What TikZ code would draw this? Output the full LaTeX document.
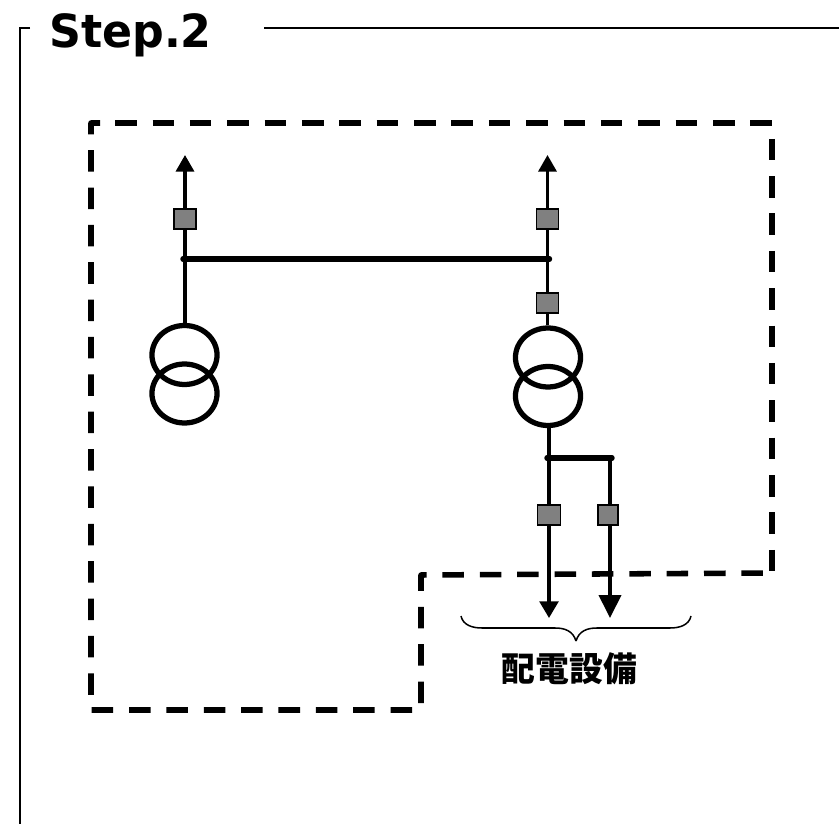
\documentclass[tikz,border=0pt]{standalone}
\usepackage{fontspec}
\setmainfont{DejaVu Sans}[FakeStretch=0.97]
\newfontfamily\cjk{Noto Sans CJK JP}
\usetikzlibrary{arrows.meta,shapes.geometric}
\tikzset{
  breaker/.style={draw=black,fill=black!50,line width=1.3pt,inner sep=0pt},
  winding/.style={ellipse,draw=black,line width=3.8pt,minimum width=47pt,minimum height=42.6pt,inner sep=0pt},
  feeder/.style={line width=2.4pt},
  bus/.style={line width=3.8pt,line cap=round,shorten <=-1.5pt,shorten >=-1.5pt},
  region/.style={line width=4pt,line join=round,dash pattern=on 15.54pt off 11.45pt},
  frame/.style={line width=1.1pt}
}
\begin{document}
\begin{tikzpicture}[x=0.01in,y=-0.01in]
\useasboundingbox (0,0) rectangle (839,824);
% outer frame
\coordinate (frameA) at (30,28);
\coordinate (frameB) at (20,28);
\coordinate (frameC) at (20,824);
\coordinate (frameD) at (264,28);
\coordinate (frameE) at (839,28);
\draw[frame] (frameA) -- (frameB) -- (frameC);
\draw[frame] (frameD) -- (frameE);
\node[anchor=base west,inner sep=0pt,font=\bfseries\fontsize{33}{38}\selectfont] (title) at (49,48) {Step.2};
% dashed region
\draw[region,dash phase=16.05pt] (100,123) -- (772,123) -- (772,573);
\draw[region,dash phase=20.4pt] (772,573) -- (421,575) -- (421,710) -- (91,710) -- (91,123) -- (100,123);
% left line
\coordinate (leftTop) at (185,155);
\coordinate (leftBus) at (185,259);
\node[breaker,minimum width=16pt,minimum height=14.5pt] (leftCB) at (185,219) {};
\node[winding] (leftHi) at (184.5,355) {};
\node[winding] (leftLo) at (184.5,393.5) {};
\draw[feeder,-{Triangle[length=12pt,width=13pt]}] (leftCB) -- (leftTop);
\draw[feeder] (leftCB) -- (leftBus) -- (leftBus |- leftHi.north);
% right line
\coordinate (rightTop) at (547.5,155);
\coordinate (rightBus) at (547.5,259);
\node[breaker,minimum width=16pt,minimum height=14.5pt] (rightCBa) at (547.5,219) {};
\node[breaker,minimum width=16pt,minimum height=14.5pt] (rightCBb) at (547.5,303) {};
\node[winding] (rightHi) at (548,357.5) {};
\node[winding] (rightLo) at (548,396) {};
\draw[feeder,-{Triangle[length=12pt,width=13pt]}] (rightCBa) -- (rightTop);
\draw[feeder] (rightCBa) -- (rightBus) -- (rightCBb) -- (rightBus |- rightHi.north);
\draw[bus] (leftBus) -- (rightBus);
% distribution side
\coordinate (loadBusA) at (549,458);
\coordinate (loadBusB) at (610,458);
\coordinate (loadEndA) at (549,618);
\coordinate (loadEndB) at (610,618);
\node[breaker,minimum width=16.5pt,minimum height=14.5pt] (loadCBa) at (549,515) {};
\node[breaker,minimum width=15pt,minimum height=14.5pt] (loadCBb) at (608,515) {};
\draw[feeder] (loadBusA |- rightLo.south) -- (loadBusA) -- (loadCBa);
\draw[feeder] (loadBusB) -- (loadBusB |- loadCBb.north);
\draw[feeder,-{Triangle[length=12pt,width=13.5pt]}] (loadCBa) -- (loadEndA);
\draw[feeder,-{Triangle[length=16.6pt,width=16pt]}] (loadBusB |- loadCBb.south) -- (loadEndB);
\draw[bus] (loadBusA) -- (loadBusB);
% brace and label
\draw[line width=1.1pt] (461,616) .. controls (463,625) and (472,628) .. (482,628) -- (555,628) .. controls (565,628) and (573,631) .. (576,641);
\draw[line width=1.1pt] (691,616) .. controls (689,625) and (680,628) .. (670,628) -- (597,628) .. controls (587,628) and (579,631) .. (576,641);
\node[inner sep=0pt,font=\cjk\bfseries\fontsize{24.4}{28}\selectfont] (load) at (569.5,669) {配電設備};
\end{tikzpicture}
\end{document}
